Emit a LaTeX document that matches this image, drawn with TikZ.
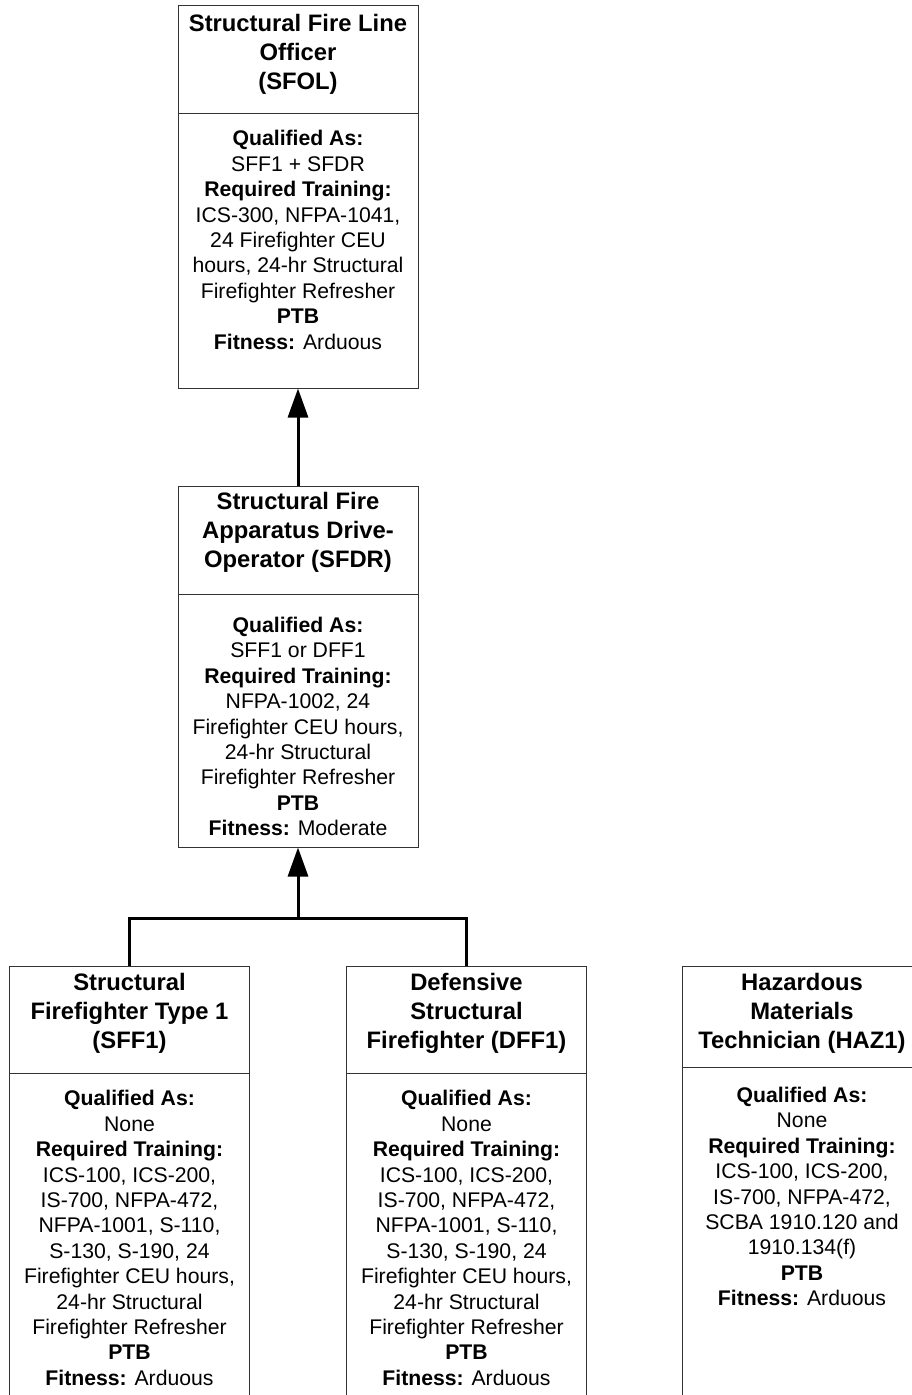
\documentclass[tikz,border=0pt]{standalone}
\usepackage{fontspec}
\setmainfont{Liberation Sans}
\usetikzlibrary{arrows.meta, positioning}

\begin{document}
\begin{tikzpicture}[x=1pt, y=-1pt, >={Triangle[length=29pt, width=20pt]},
    card/.style={draw=black!80, line width=1pt, rectangle, minimum width=240pt, inner sep=0pt},
    head/.style={align=center, font=\fontsize{23.8}{29}\selectfont\bfseries, inner sep=0pt},
    body/.style={align=center, font=\fontsize{21.2}{25.4}\selectfont, inner sep=0pt},
    rule/.style={draw=black!80, line width=1pt},
    link/.style={line width=3pt}]
    \clip (0,0) rectangle (912,1395);

    % Top cards
    \node[card, minimum height=383pt] (sfol) at (298,196.5) {};
    \node[card, minimum height=361pt] (sfdr) at (298,666.5) {};

    % Bottom cards
    \node[card, minimum height=439pt] (sff1) at (129.5,1185.5) {};
    \node[card, minimum height=439pt] (dff1) at (466.5,1185.5) {};
    \node[card, minimum height=439pt] (haz1) at (802,1185.5) {};

    % Dividers
    \draw[rule] (sfol.west |- 0,113) -- (sfol.east |- 0,113);
    \draw[rule] (sfdr.west |- 0,594) -- (sfdr.east |- 0,594);
    \draw[rule] (sff1.west |- 0,1073) -- (sff1.east |- 0,1073);
    \draw[rule] (dff1.west |- 0,1073) -- (dff1.east |- 0,1073);
    \draw[rule] (haz1.west |- 0,1067) -- (haz1.east |- 0,1067);

    % Titles
    \node[head] (sfolhead) at (298,54) {Structural Fire Line\\Officer\\(SFOL)};
    \node[head] (sfdrhead) at (298,532.5) {Structural Fire\\Apparatus Drive-\\Operator (SFDR)};
    \node[head] (sff1head) at (129.5,1013.5) {Structural\\Firefighter Type 1\\(SFF1)};
    \node[head] (dff1head) at (466.5,1013.5) {Defensive\\Structural\\Firefighter (DFF1)};
    \node[head] (haz1head) at (802,1013) {Hazardous\\Materials\\Technician (HAZ1)};

    % Details
    \node[body] (sfolbody) at (298,240) {\textbf{Qualified As:}\\SFF1 + SFDR\\\textbf{Required Training:}\\ICS-300, NFPA-1041,\\24 Firefighter CEU\\hours, 24-hr Structural\\Firefighter Refresher\\\textbf{PTB}\\\textbf{Fitness:} Arduous};
    \node[body] (sfdrbody) at (298,726.5) {\textbf{Qualified As:}\\SFF1 or DFF1\\\textbf{Required Training:}\\NFPA-1002, 24\\Firefighter CEU hours,\\24-hr Structural\\Firefighter Refresher\\\textbf{PTB}\\\textbf{Fitness:} Moderate};
    \node[body] (sff1body) at (129.5,1238) {\textbf{Qualified As:}\\None\\\textbf{Required Training:}\\ICS-100, ICS-200,\\IS-700, NFPA-472,\\NFPA-1001, S-110,\\S-130, S-190, 24\\Firefighter CEU hours,\\24-hr Structural\\Firefighter Refresher\\\textbf{PTB}\\\textbf{Fitness:} Arduous};
    \node[body] (dff1body) at (466.5,1238) {\textbf{Qualified As:}\\None\\\textbf{Required Training:}\\ICS-100, ICS-200,\\IS-700, NFPA-472,\\NFPA-1001, S-110,\\S-130, S-190, 24\\Firefighter CEU hours,\\24-hr Structural\\Firefighter Refresher\\\textbf{PTB}\\\textbf{Fitness:} Arduous};
    \node[body] (haz1body) at (802,1196.5) {\textbf{Qualified As:}\\None\\\textbf{Required Training:}\\ICS-100, ICS-200,\\IS-700, NFPA-472,\\SCBA 1910.120 and\\1910.134(f)\\\textbf{PTB}\\\textbf{Fitness:} Arduous};

    % Connections
    \coordinate (join) at (298,918);
    \draw[link, ->] (sfdr.north) -- (sfol.south);
    \draw[link] (sff1.north) |- (join) -| (dff1.north);
    \draw[link, ->] (join) -- (sfdr.south);
\end{tikzpicture}
\end{document}
